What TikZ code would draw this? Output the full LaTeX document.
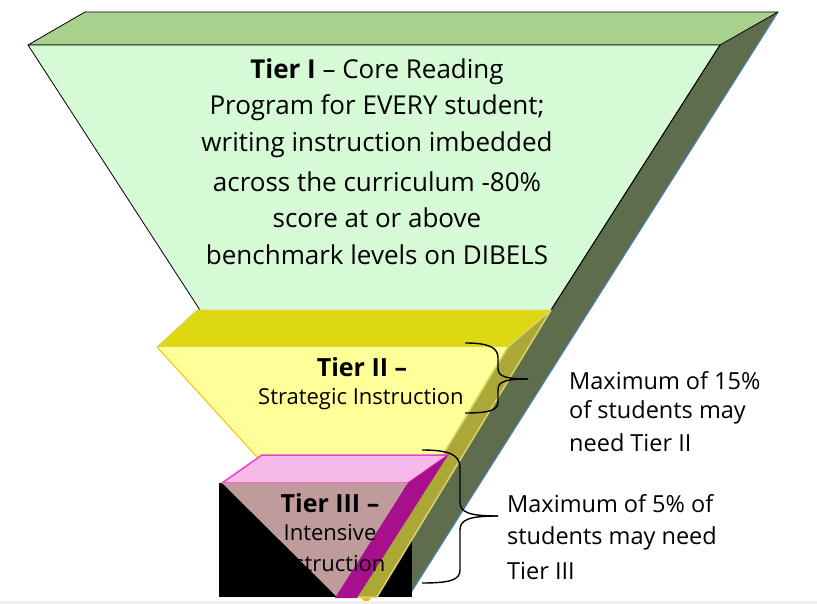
\documentclass[tikz,border=0pt]{standalone}
\usepackage{fontspec}
\setmainfont{Open Sans}
\definecolor{gtop}{HTML}{A9D18E}
\definecolor{gfront}{HTML}{D6FAD6}
\definecolor{gside}{HTML}{5E6D4B}
\definecolor{gblue}{HTML}{4A7EBB}
\definecolor{ytop}{HTML}{DDD813}
\definecolor{yfront}{HTML}{FFFF99}
\definecolor{yside}{HTML}{ABA838}
\definecolor{ylight}{HTML}{D8D468}
\definecolor{yedge}{HTML}{F5C000}
\definecolor{ptop}{HTML}{F7B9EA}
\definecolor{pedge}{HTML}{EE3FC8}
\definecolor{pfront}{HTML}{C09B9B}
\definecolor{pside}{HTML}{A80F8C}
\begin{document}
\begin{tikzpicture}[x=1pt,y=-1pt,line join=round,
  bigtxt/.style={font=\fontsize{26}{30}\selectfont,inner sep=0pt},
  midtxt/.style={font=\fontsize{22}{26}\selectfont,inner sep=0pt},
  boldtxt/.style={font=\fontsize{25}{29}\selectfont\bfseries,inner sep=0pt},
  sidetxt/.style={font=\fontsize{23.5}{28}\selectfont,inner sep=0pt,anchor=west},
  bracestyle/.style={draw=black,line width=1.4pt}]
\useasboundingbox (0,0) rectangle (817,604);
\fill[white] (0,0) rectangle (817,604);
% ---------- Tier I (green) ----------
\coordinate (gbl) at (85,12);
\coordinate (gbr) at (778,12);
\coordinate (gfl) at (28,45);
\coordinate (gfr) at (720,45);
\coordinate (gapex) at (377,583);
\coordinate (gsbo) at (410,594);
\coordinate (gsbi) at (368,597);
\fill[gside] (gfr) -- (gbr) -- (gsbo) -- (gsbi) -- cycle;
\draw[gblue,line width=1.2pt] (gbr) -- (gsbo);
\filldraw[fill=gtop,draw=black,line width=0.8pt] (gbl) -- (gbr) -- (gfr) -- (gfl) -- cycle;
\filldraw[fill=gfront,draw=black,line width=0.8pt] (gfl) -- (gfr) -- (gapex) -- cycle;
\draw[black,line width=0.8pt] (gfr) -- (gsbi);
% ---------- Tier II (yellow) ----------
\coordinate (ybl) at (197,310);
\coordinate (ybr) at (551,310);
\coordinate (yfl) at (157,347);
\coordinate (yfr) at (508,347);
\coordinate (yapex) at (367,578);
\coordinate (ysbo) at (377,597);
\coordinate (ysbi) at (357,597);
\fill[ytop] (ybl) -- (ybr) -- (yfr) -- (yfl) -- cycle;
\draw[ylight,line width=0.8pt] (ybl) -- (ybr) -- (yfr) -- (yfl) -- cycle;
\fill[yfront] (yfl) -- (yfr) -- (yapex) -- cycle;
\draw[yedge,line width=1pt] (yfl) -- (yapex);
% ---------- black box ----------
\fill[black] (219,483) rectangle (412,597);
\fill[yedge] (360,597) -- (372,597) -- (366,603) -- cycle;
% yellow side over the box
\filldraw[fill=yside,draw=ylight,line width=1.5pt] (yfr) -- (ybr) -- (ysbo) -- (ysbi) -- cycle;
% ---------- Tier III (pink) ----------
\coordinate (pbl) at (262,455);
\coordinate (pbr) at (448,455);
\coordinate (pfl) at (222,483);
\coordinate (pfr) at (408,483);
\coordinate (papex) at (337,597);
\coordinate (psbo) at (357,598);
\filldraw[fill=ptop,draw=pedge,line width=1.5pt] (pbl) -- (pbr) -- (pfr) -- (pfl) -- cycle;
\fill[pfront] (pfl) -- (pfr) -- (papex) -- cycle;
\fill[pside] (pfr) -- (pbr) -- (psbo) -- (335,598) -- cycle;
% bottom rule
\fill[gray!12] (0,601) rectangle (817,604);
% ---------- texts ----------
\node[bigtxt] (t1a) at (377,72) {\textbf{Tier I} – Core Reading};
\node[bigtxt] (t1b) at (377,108) {Program for EVERY student;};
\node[bigtxt] (t1c) at (377,145) {writing instruction imbedded};
\node[bigtxt] (t1d) at (377,182) {across the curriculum -80\%};
\node[bigtxt] (t1e) at (377,218) {score at or above};
\node[bigtxt] (t1f) at (377,255) {benchmark levels on DIBELS};
\node[boldtxt] (t2a) at (362,367) {Tier II –};
\node[midtxt] (t2b) at (361,399) {Strategic Instruction};
\node[boldtxt] (t3a) at (330,503) {Tier III –};
\node[midtxt] (t3b) at (330,533) {Intensive};
\node[midtxt] (t3c) at (330,564) {Instruction};
\node[sidetxt] (r1a) at (569,381) {Maximum of 15\%};
\node[sidetxt] (r1b) at (569,412) {of students may};
\node[sidetxt] (r1c) at (569,443) {need Tier II};
\node[sidetxt] (r2a) at (507,504) {Maximum of 5\% of};
\node[sidetxt] (r2b) at (507,538) {students may need};
\node[sidetxt] (r2c) at (507,571) {Tier III};
% ---------- braces ----------
\coordinate (b1top) at (465,343);
\coordinate (b1tip) at (528,379);
\coordinate (b1bot) at (465,413);
\draw[bracestyle] (b1top) .. controls (490,343) and (498,348) .. (498,358) -- (498,368)
  .. controls (498,376) and (504,379) .. (b1tip);
\draw[bracestyle] (b1tip) .. controls (504,379) and (498,382) .. (498,390) -- (498,402)
  .. controls (498,410) and (490,413) .. (b1bot);
\coordinate (b2top) at (422,450);
\coordinate (b2tip) at (498,516);
\coordinate (b2bot) at (422,583);
\draw[bracestyle] (b2top) .. controls (450,450) and (460,455) .. (460,468) -- (460,502)
  .. controls (460,512) and (468,516) .. (b2tip);
\draw[bracestyle] (b2tip) .. controls (468,516) and (460,520) .. (460,530) -- (460,570)
  .. controls (460,580) and (450,583) .. (b2bot);
\end{tikzpicture}
\end{document}
